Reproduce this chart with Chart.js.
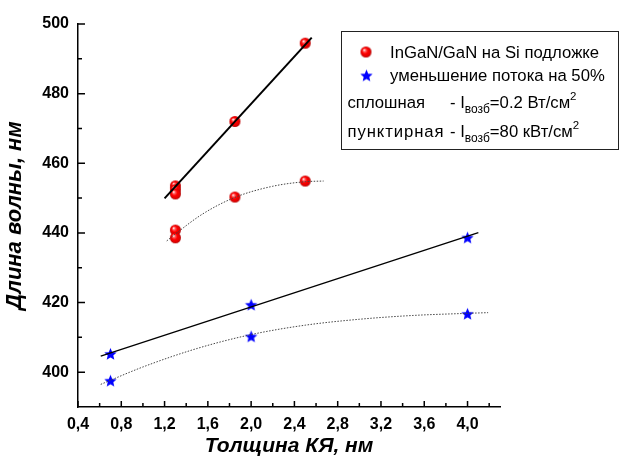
<!DOCTYPE html>
<html lang="ru">
<head>
  <meta charset="UTF-8" />
  <title>Длина волны - толщина КЯ</title>
  <script src="https://cdn.jsdelivr.net/npm/chart.js"></script>
  <style>
    html, body { margin: 0; padding: 0; background: #fff; }
    #wrap { width: 621px; height: 461px; }
  </style>
</head>
<body>
<div id="wrap"><canvas id="grafico" width="621" height="461"></canvas></div>
<script>
  // точки (InGaN/GaN на Si)
  const redX = [1.3, 1.3, 1.3, 1.3, 1.3, 1.85, 1.85, 2.5, 2.5];
  const redY = [453.5, 452.4, 451.2, 440.8, 438.6, 472.0, 450.3, 494.5, 454.9];
  // точки (уменьшение потока на 50%)
  const blueX = [0.7, 0.7, 2.0, 2.0, 4.0, 4.0];
  const blueY = [405.4, 397.7, 419.5, 410.4, 438.8, 416.9];

  // линии аппроксимации
  const redSolidX = [1.2, 2.56];
  const redSolidY = [449.9, 496.1];
  const redDotX = [1.22, 1.3, 1.55, 1.85, 2.2, 2.5, 2.67];
  const redDotY = [437.7, 439.7, 445.4, 450.2, 453.4, 454.7, 454.9];
  const blueSolidX = [0.61, 4.1];
  const blueSolidY = [404.6, 440.1];
  const blueDotX = [0.61, 1.0, 1.5, 2.0, 2.5, 3.0, 3.5, 4.0, 4.19];
  const blueDotY = [396.5, 401.5, 406.8, 410.8, 413.5, 415.2, 416.3, 416.9, 417.1];

  // оси
  const xMajor = [0.4, 0.8, 1.2, 1.6, 2.0, 2.4, 2.8, 3.2, 3.6, 4.0];
  const xMajorLabels = ["0,4", "0,8", "1,2", "1,6", "2,0", "2,4", "2,8", "3,2", "3,6", "4,0"];
  const xMinor = [0.6, 1.0, 1.4, 1.8, 2.2, 2.6, 3.0, 3.4, 3.8, 4.2];
  const yMajor = [400, 420, 440, 460, 480, 500];
  const yMajorLabels = ["400", "420", "440", "460", "480", "500"];
  const yMinor = [410, 430, 450, 470, 490];

  const seriesNames = ["InGaN/GaN на Si подложке", "уменьшение потока на 50%"];
  const notes = [
    [["сплошная", ""], ["- I", "", 450], ["возб", "sub"], ["=0.2 Вт/см", ""], ["2", "sup"]],
    [["пунктирная", "wide"], ["- I", "", 450], ["возб", "sub"], ["=80 кВт/см", ""], ["2", "sup"]]
  ];

  const FONT = '"Liberation Sans", Arial, sans-serif';
  const pts = (xs, ys) => xs.map((x, i) => ({ x: x, y: ys[i] }));

  function makeBall(r) {
    const c = document.createElement("canvas");
    const s = 2 * r + 2;
    c.width = s; c.height = s;
    const g = c.getContext("2d");
    const m = s / 2;
    const grad = g.createRadialGradient(m - r * 0.35, m - r * 0.4, r * 0.05, m, m, r);
    grad.addColorStop(0, "#ffffff");
    grad.addColorStop(0.22, "#ff6060");
    grad.addColorStop(0.5, "#ff0000");
    grad.addColorStop(0.85, "#e00000");
    grad.addColorStop(1, "#a80000");
    g.fillStyle = grad;
    g.beginPath(); g.arc(m, m, r, 0, Math.PI * 2); g.fill();
    return c;
  }

  function makeStar(r) {
    const c = document.createElement("canvas");
    const s = 2 * r + 2;
    c.width = s; c.height = s;
    const g = c.getContext("2d");
    const m = s / 2;
    g.fillStyle = "#0000ff";
    g.beginPath();
    for (let i = 0; i < 10; i++) {
      const rr = i % 2 === 0 ? r : r * 0.45;
      const a = -Math.PI / 2 + i * Math.PI / 5;
      const px = m + rr * Math.cos(a), py = m + 1 + rr * Math.sin(a);
      if (i === 0) g.moveTo(px, py); else g.lineTo(px, py);
    }
    g.closePath(); g.fill();
    return c;
  }

  const ball = makeBall(5.5);
  const star = makeStar(6.5);

  const same = (a, b) => Math.abs(a - b) < 1e-6;

  // засечки внутрь, большие и малые
  const ticksPlugin = {
    id: "ticksIn",
    afterDraw(chart) {
      const { ctx, scales: { x, y } } = chart;
      ctx.save();
      ctx.strokeStyle = "#000";
      ctx.lineWidth = 1.5;
      ctx.beginPath();
      xMajor.concat(xMinor).forEach(v => {
        const p = x.getPixelForValue(v);
        const len = xMajor.some(t => same(t, v)) ? 6 : 4;
        ctx.moveTo(p, x.top); ctx.lineTo(p, x.top - len);
      });
      yMajor.concat(yMinor).forEach(v => {
        const p = y.getPixelForValue(v);
        const len = yMajor.includes(v) ? 7 : 4;
        ctx.moveTo(y.right, p); ctx.lineTo(y.right + len, p);
      });
      ctx.stroke();
      ctx.restore();
    }
  };

  // легенда в рамке
  const legendPlugin = {
    id: "legendBox",
    afterDraw(chart) {
      const ctx = chart.ctx;
      ctx.save();
      ctx.strokeStyle = "#222";
      ctx.lineWidth = 1;
      ctx.strokeRect(341.5, 31.5, 277, 118);
      ctx.drawImage(ball, 366 - ball.width / 2, 52 - ball.height / 2);
      ctx.drawImage(star, 366.5 - star.width / 2, 75 - star.height / 2);
      ctx.fillStyle = "#000";
      ctx.textBaseline = "alphabetic";
      ctx.font = "16.7px " + FONT;
      ctx.fillText(seriesNames[0], 390, 57.5);
      ctx.fillText(seriesNames[1], 390, 81);
      const baselines = [107.5, 136.5];
      notes.forEach((parts, i) => {
        let cx = 347.5;
        parts.forEach(([t, k, fixX]) => {
          if (fixX) cx = fixX;
          const size = k === "sub" ? 12 : k === "sup" ? 11.5 : 16.7;
          ctx.font = size + "px " + FONT;
          ctx.letterSpacing = k === "wide" ? "0.9px" : "0px";
          const dy = k === "sub" ? 5.5 : k === "sup" ? -7.5 : 0;
          ctx.fillText(t, cx, baselines[i] + dy);
          cx += ctx.measureText(t).width;
        });
      });
      ctx.restore();
    }
  };

  const tickFont = { family: FONT, size: 16, weight: "bold" };
  const titleFont = { family: FONT, size: 21, weight: "bold", style: "italic" };

  new Chart(document.getElementById("grafico"), {
    type: "scatter",
    data: {
      datasets: [
        { data: pts(redSolidX, redSolidY), showLine: true, borderColor: "#000", borderWidth: 2, pointRadius: 0 },
        { data: pts(blueSolidX, blueSolidY), showLine: true, borderColor: "#000", borderWidth: 1.3, pointRadius: 0 },
        { data: pts(redDotX, redDotY), showLine: true, borderColor: "#444", borderWidth: 1, borderDash: [1.5, 1.5], cubicInterpolationMode: "monotone", pointRadius: 0 },
        { data: pts(blueDotX, blueDotY), showLine: true, borderColor: "#444", borderWidth: 1, borderDash: [1.5, 1.5], cubicInterpolationMode: "monotone", pointRadius: 0 },
        { label: seriesNames[0], data: pts(redX, redY), pointStyle: ball, pointRadius: 6 },
        { label: seriesNames[1], data: pts(blueX, blueY), pointStyle: star, pointRadius: 7 }
      ]
    },
    options: {
      responsive: false,
      animation: false,
      layout: { padding: { top: 24, right: 121, left: 0, bottom: 0 } },
      plugins: { legend: { display: false }, tooltip: { enabled: false } },
      scales: {
        x: {
          type: "linear", min: 0.4, max: 4.3,
          afterBuildTicks: s => { s.ticks = xMajor.map(v => ({ value: v })); },
          afterFit: s => { s.height = 54; },
          grid: { display: false, drawTicks: false },
          border: { display: true, color: "#000", width: 1.5 },
          ticks: {
            autoSkip: false, maxRotation: 0, padding: 8, color: "#000", font: tickFont,
            callback: v => { const i = xMajor.findIndex(t => same(t, v)); return i >= 0 ? xMajorLabels[i] : ""; }
          },
          title: { display: true, text: "Толщина КЯ, нм", color: "#000", font: titleFont, padding: { top: 0, bottom: 2 } }
        },
        y: {
          type: "linear", min: 390, max: 500,
          afterBuildTicks: s => { s.ticks = yMajor.map(v => ({ value: v })); },
          afterFit: s => { s.width = 78; },
          grid: { display: false, drawTicks: false },
          border: { display: true, color: "#000", width: 1.5 },
          ticks: {
            autoSkip: false, padding: 9, color: "#000", font: tickFont,
            callback: v => { const i = yMajor.indexOf(v); return i >= 0 ? yMajorLabels[i] : ""; }
          },
          title: { display: true, text: "Длина волны, нм", color: "#000", font: { family: FONT, size: 22, weight: "bold", style: "italic" }, padding: { top: 2, bottom: 0 } }
        }
      }
    },
    plugins: [ticksPlugin, legendPlugin]
  });
</script>
</body>
</html>
